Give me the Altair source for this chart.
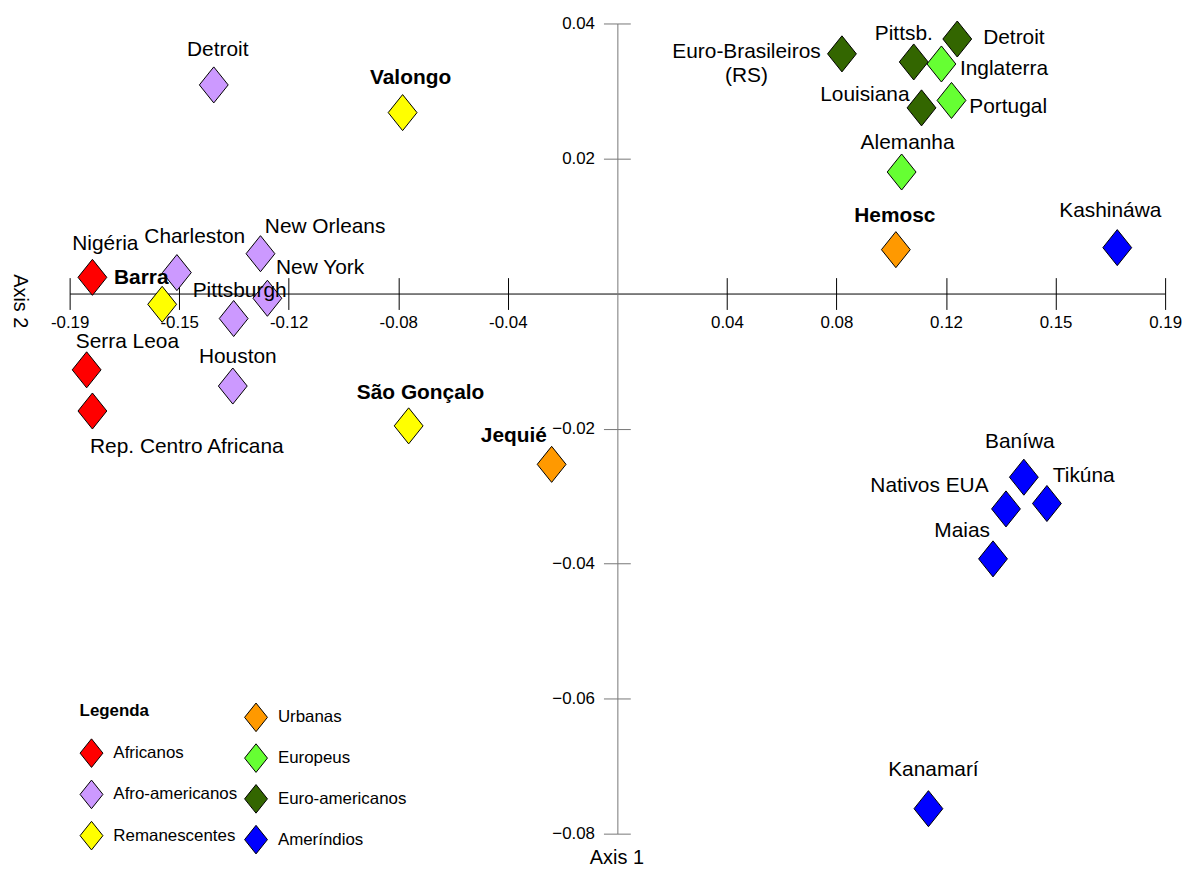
import altair as alt
import pandas as pd

# ---------------- data ----------------
names = [
    "Nigéria", "Serra Leoa", "Rep. Centro Africana",
    "Detroit", "Charleston", "New Orleans", "New York", "Pittsburgh", "Houston",
    "Barra", "Valongo", "São Gonçalo",
    "Jequié", "Hemosc",
    "Euro-Brasileiros\n(RS)", "Pittsb.", "Detroit", "Louisiana",
    "Alemanha", "Inglaterra", "Portugal",
    "Kashináwa", "Baníwa", "Tikúna", "Nativos EUA", "Maias", "Kanamarí",
]
groups = [
    "Africanos", "Africanos", "Africanos",
    "Afro-americanos", "Afro-americanos", "Afro-americanos", "Afro-americanos",
    "Afro-americanos", "Afro-americanos",
    "Remanescentes", "Remanescentes", "Remanescentes",
    "Urbanas", "Urbanas",
    "Euro-americanos", "Euro-americanos", "Euro-americanos", "Euro-americanos",
    "Europeus", "Europeus", "Europeus",
    "Ameríndios", "Ameríndios", "Ameríndios", "Ameríndios", "Ameríndios", "Ameríndios",
]
axis1 = [
    -0.1821, -0.1841, -0.1821,
    -0.1400, -0.1528, -0.1238, -0.1214, -0.1331, -0.1334,
    -0.1579, -0.0745, -0.0724,
    -0.0228, 0.0966,
    0.0779, 0.1028, 0.1179, 0.1055,
    0.0986, 0.1124, 0.1159,
    0.1734, 0.1410, 0.1490, 0.1348, 0.1303, 0.1079,
]
axis2 = [
    0.0024, -0.0113, -0.0174,
    0.0309, 0.0031, 0.0059, -0.0007, -0.0037, -0.0137,
    -0.0016, 0.0268, -0.0196,
    -0.0253, 0.0065,
    0.0355, 0.0343, 0.0377, 0.0275,
    0.0180, 0.0340, 0.0286,
    0.0068, -0.0272, -0.0311, -0.0319, -0.0393, -0.0763,
]
bold = [
    False, False, False,
    False, False, False, False, False, False,
    True, True, True,
    True, True,
    False, False, False, False,
    False, False, False,
    False, False, False, False, False, False,
]

# label placement (pixel offsets of the label centre from its marker)
label_dx = [13, 41, 95, 4, 18, 65, 53, 6, 5, -21, 8, 12, -38, -1,
            -96, -10, 57, -57, 6, 63, 57, -7, -4, 37, -77, -31, 5]
label_dy = [-33, -28, 36, -35, -36, -27, -30, -28, -29, -26, -35, -33, -28, -34,
            -2, -28, -1, -13, -29, 5, 7, -37, -35, -28, -23, -28, -39]

group_a = ["Africanos", "Afro-americanos", "Remanescentes"]
colors_a = ["#FF0000", "#CC99FF", "#FFFF00"]
group_b = ["Urbanas", "Europeus", "Euro-americanos", "Ameríndios"]
colors_b = ["#FF9900", "#66FF33", "#336600", "#0000FF"]

x_tick_values = [-0.19, -0.152, -0.114, -0.076, -0.038, 0.038, 0.076, 0.114, 0.152, 0.19]
x_tick_labels = ["-0.19", "-0.15", "-0.12", "-0.08", "-0.04", "0.04", "0.08", "0.12", "0.15", "0.19"]
y_tick_values = [0.04, 0.02, -0.02, -0.04, -0.06, -0.08]

df = pd.DataFrame({
    "name": names, "group": groups, "x": axis1, "y": axis2, "bold": bold,
    "dx": label_dx, "dy": label_dy,
})

# ---------------- layout ----------------
W, H = 1102, 815
XD = [-0.19, 0.19]
YD = [-0.08, 0.04]
x0 = W * (0 - XD[0]) / (XD[1] - XD[0])
y0 = H * (YD[1] - 0) / (YD[1] - YD[0])
ux = (XD[1] - XD[0]) / W   # data units per pixel
uy = (YD[1] - YD[0]) / H

FONT = "Liberation Sans, Arial, Helvetica, sans-serif"
DIAMOND = "M0,-1.25L1,0L0,1.25L-1,0Z"
YCOL = "#777777"

label_expr = "".join(
    f"abs(datum.value - ({v})) < 0.001 ? '{l}' : " for v, l in zip(x_tick_values, x_tick_labels)
) + "''"

xscale = alt.Scale(domain=XD, nice=False, zero=False)
yscale = alt.Scale(domain=YD, nice=False, zero=False)

x_axis_main = alt.Axis(
    orient="bottom", offset=-(H - y0), values=x_tick_values, labelExpr=label_expr,
    tickSize=16, tickColor="black", domainColor="black", grid=False,
    labelFont=FONT, labelFontSize=17, labelColor="black", labelPadding=5,
    labelFlush=False, labelOverlap=False,
    title="Axis 1", titleFont=FONT, titleFontSize=20, titleFontWeight="normal",
    titleColor="black", titleX=550, titleY=H + 24 - y0, titleAlign="center",
    titleBaseline="middle",
)
y_axis_main = alt.Axis(
    orient="left", offset=-x0, values=y_tick_values, format=".2f",
    tickSize=14, tickColor=YCOL, domainColor=YCOL, grid=False,
    labelFont=FONT, labelFontSize=17, labelColor="black", labelPadding=9,
    labelFlush=False, labelOverlap=False,
    title="Axis 2", titleFont=FONT, titleFontSize=20, titleFontWeight="normal",
    titleColor="black", titleX=-50 - x0, titleY=279, titleAngle=90,
    titleAlign="center", titleBaseline="middle",
)
x_axis_top = alt.Axis(
    orient="top", offset=-y0, values=x_tick_values, labels=False, domain=False,
    tickSize=16, tickColor="black", grid=False, title="",
)
y_axis_right = alt.Axis(
    orient="right", offset=-(W - x0), values=y_tick_values, labels=False, domain=False,
    tickSize=13, tickColor=YCOL, grid=False, title="",
)

legend_common = dict(
    orient="none", labelFont=FONT, labelFontSize=17, labelColor="black",
    symbolType=DIAMOND, symbolSize=529, symbolStrokeColor="black",
    symbolStrokeWidth=1, symbolOpacity=1, labelOffset=10, padding=0,
)
legend_a = alt.Legend(
    title="Legenda", titleFont=FONT, titleFontSize=17, titleFontWeight="bold",
    titleColor="black", titlePadding=21, legendX=10, legendY=684, rowPadding=7.5,
    **legend_common,
)
legend_b = alt.Legend(
    title=None, legendX=175.5, legendY=686, rowPadding=7, **legend_common,
)

base = alt.Chart(df)
point_mark = dict(shape=DIAMOND, size=841, filled=True, stroke="black",
                  strokeWidth=1, opacity=1)

pts_a = base.transform_filter(
    alt.FieldOneOfPredicate(field="group", oneOf=group_a)
).mark_point(**point_mark).encode(
    x=alt.X("x:Q", scale=xscale, axis=x_axis_main),
    y=alt.Y("y:Q", scale=yscale, axis=y_axis_main),
    fill=alt.Fill("group:N", scale=alt.Scale(domain=group_a, range=colors_a),
                  legend=legend_a),
)
pts_b = base.transform_filter(
    alt.FieldOneOfPredicate(field="group", oneOf=group_b)
).mark_point(**point_mark).encode(
    x=alt.X("x:Q", scale=xscale, axis=x_axis_top),
    y=alt.Y("y:Q", scale=yscale, axis=y_axis_right),
    fill=alt.Fill("group:N", scale=alt.Scale(domain=group_b, range=colors_b),
                  legend=legend_b),
)

text_base = base.transform_calculate(
    lx=f"datum.x + datum.dx * {ux}",
    ly=f"datum.y - datum.dy * {uy}",
)
text_enc = dict(
    x=alt.X("lx:Q", scale=xscale, axis=None),
    y=alt.Y("ly:Q", scale=yscale, axis=None),
    text=alt.Text("name:N"),
)
labels_normal = text_base.transform_filter("!datum.bold").mark_text(
    font=FONT, fontSize=21, color="black", lineBreak="\n", lineHeight=24,
    align="center", baseline="middle",
).encode(**text_enc)
labels_bold = text_base.transform_filter("datum.bold").mark_text(
    font=FONT, fontSize=21, fontWeight="bold", color="black",
    align="center", baseline="middle",
).encode(**text_enc)

chart = alt.layer(pts_a, pts_b, labels_normal, labels_bold).resolve_scale(
    fill="independent"
).resolve_axis(
    x="independent", y="independent"
).properties(
    width=W, height=H,
    autosize=alt.AutoSizeParams(type="none"),
    padding={"left": 62, "top": 13, "right": 20, "bottom": 36},
    background="white",
).configure_view(stroke=None)

chart.save("out.html", embed_options={"renderer": "svg", "actions": False})
